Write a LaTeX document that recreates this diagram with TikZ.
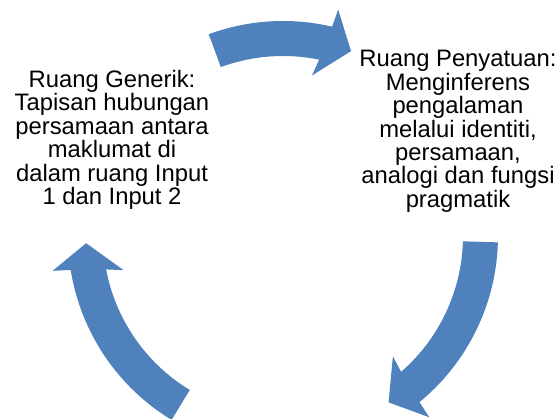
\documentclass[tikz,border=0pt]{standalone}
\usepackage{fontspec}
\setmainfont{Liberation Sans}
\usepackage{tikz}
\usetikzlibrary{positioning}
\definecolor{cycleblue}{RGB}{79,129,189}

\begin{document}
\begin{tikzpicture}[x=1pt,y=1pt,
      space/.style={align=center,
        inner sep=0pt,
        font=\fontsize{23.8}{23.4}\selectfont},
      cyclearrow/.style={fill=cycleblue}]

    \useasboundingbox (0,0) rectangle (560,419);

    \coordinate (hub) at (283,183);

    \node[space]
      (Generic) at (112,279.2) {Ruang Generik:\\Tapisan hubungan\\persamaan antara\\maklumat di\\dalam ruang Input\\1 dan Input 2};
    \node[space]
      (Blend) at (458,287.7) {Ruang Penyatuan:\\Menginferens\\pengalaman\\melalui identiti,\\persamaan,\\analogi dan fungsi\\pragmatik};

    \begin{scope}[shift={(hub)}]
      % top: Generic -> Blend
      \path[cyclearrow]
        (110.2:215) arc[start angle=110.2, end angle=76.8, radius=215]
        -- (76.3:233) -- (69.8:197) -- (79.8:163) -- (78.4:180)
        arc[start angle=78.4, end angle=110.2, radius=180] -- cycle;
      % right: Blend -> bottom
      \path[cyclearrow]
        (-1.7:215) arc[start angle=-1.7, end angle=-50.6, radius=215]
        -- (-51.1:233) -- (-57.6:197) -- (-47.6:163) -- (-49.0:180)
        arc[start angle=-49.0, end angle=-1.7, radius=180] -- cycle;
      % left: bottom -> Generic
      \path[cyclearrow]
        (238.8:215) arc[start angle=238.8, end angle=189.1, radius=215]
        -- (188.6:233) -- (182.1:197) -- (192.1:163) -- (190.7:180)
        arc[start angle=190.7, end angle=238.8, radius=180] -- cycle;
    \end{scope}

  \end{tikzpicture}
\end{document}
